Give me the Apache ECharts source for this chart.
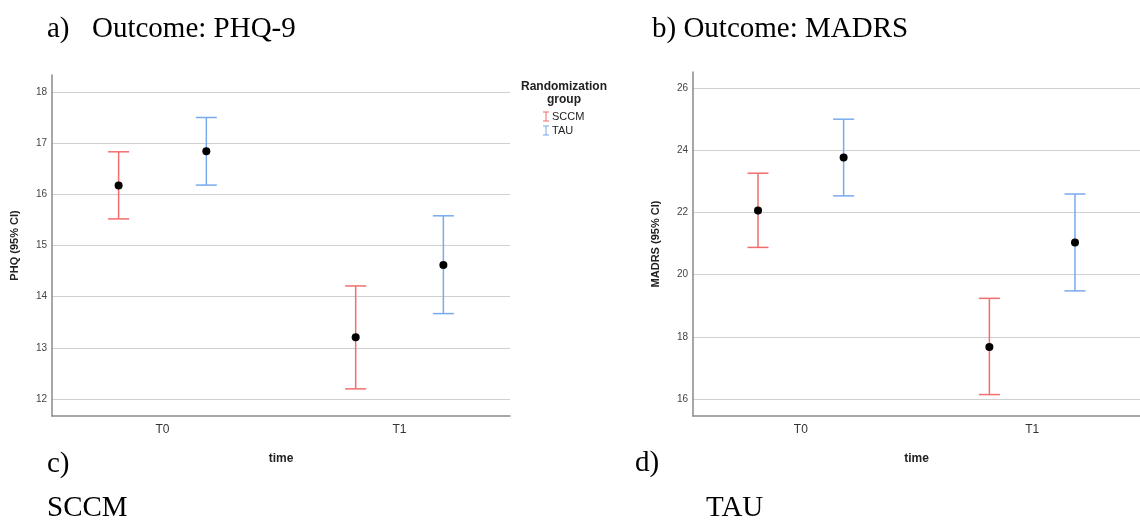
<!DOCTYPE html>
<html>
<head>
<meta charset="utf-8">
<script src="https://cdn.jsdelivr.net/npm/echarts@6/dist/echarts.min.js"></script>
<style>
  html, body { margin: 0; padding: 0; background: #fff; }
  #main { width: 1140px; height: 521px; }
</style>
</head>
<body>
<div id="main"></div>
<script>
// categories (time points)
var categories = ['T0', 'T1'];
var groups = ['SCCM', 'TAU'];

// PHQ-9 : mean, lower and upper 95% CI
var phqSccmMean = [16.17, 13.21];
var phqSccmLow  = [15.52, 12.20];
var phqSccmHigh = [16.83, 14.21];
var phqTauMean  = [16.84, 14.62];
var phqTauLow   = [16.18, 13.67];
var phqTauHigh  = [17.50, 15.58];

// MADRS : mean, lower and upper 95% CI
var madrsSccmMean = [22.07, 17.67];
var madrsSccmLow  = [20.88, 16.14];
var madrsSccmHigh = [23.27, 19.24];
var madrsTauMean  = [23.78, 21.04];
var madrsTauLow   = [22.54, 19.48];
var madrsTauHigh  = [25.01, 22.60];

// y tick labels
var phqTicks = [12, 13, 14, 15, 16, 17, 18];
var madrsTicks = [16, 18, 20, 22, 24, 26];

var RED = '#f26d6d';
var BLUE = '#78aaee';
var SANS = 'Liberation Sans';
var SERIF = 'Liberation Serif';
var shift = 0.185; // dodge of the two groups around each time point

function rows(mean, low, high, dx) {
  var out = [];
  for (var i = 0; i < mean.length; i++) {
    out.push([i + dx, low[i], high[i], mean[i]]);
  }
  return out;
}

function errorBar(color) {
  return function (params, api) {
    var x = api.value(0);
    var lo = api.coord([x, api.value(1)]);
    var hi = api.coord([x, api.value(2)]);
    var hw = 10.5;
    var st = { stroke: color, lineWidth: 1.5 };
    return {
      type: 'group',
      children: [
        { type: 'line', shape: { x1: lo[0], y1: lo[1], x2: hi[0], y2: hi[1] }, style: st },
        { type: 'line', shape: { x1: lo[0] - hw, y1: lo[1], x2: lo[0] + hw, y2: lo[1] }, style: st },
        { type: 'line', shape: { x1: hi[0] - hw, y1: hi[1], x2: hi[0] + hw, y2: hi[1] }, style: st }
      ]
    };
  };
}

function meanPoints(mean, dx) {
  return mean.map(function (v, i) { return [i + dx, v]; });
}

function xAxisFor(gi) {
  return {
    type: 'value', gridIndex: gi, min: -0.466, max: 1.466,
    name: 'time', nameLocation: 'middle', nameGap: 37,
    nameTextStyle: { fontFamily: SANS, fontSize: 12, fontWeight: 'bold', color: '#222' },
    axisLine: { show: true, onZero: false, lineStyle: { color: '#8a8a8a', width: 1.5 } },
    axisTick: { show: false, customValues: [0, 1] },
    splitLine: { show: false },
    axisLabel: {
      customValues: [0, 1], margin: 8,
      fontFamily: SANS, fontSize: 12, color: '#333',
      formatter: function (v) { return categories[Math.round(v)]; }
    }
  };
}

function yAxisFor(gi, name, min, max, ticks) {
  return {
    type: 'value', gridIndex: gi, min: min, max: max,
    name: name, nameLocation: 'middle', nameGap: 32,
    nameTextStyle: { fontFamily: SANS, fontSize: 11, fontWeight: 'bold', color: '#222' },
    axisLine: { show: true, onZero: false, lineStyle: { color: '#8a8a8a', width: 1.5 } },
    axisTick: { show: false, customValues: ticks },
    splitLine: { show: true, lineStyle: { color: '#d0d0d0', width: 1.2 } },
    axisLabel: { customValues: ticks, margin: 5, fontFamily: SANS, fontSize: 10, color: '#444' }
  };
}

function seriesFor(gi, sMean, sLow, sHigh, tMean, tLow, tHigh) {
  return [
    {
      name: 'SCCM', type: 'custom', xAxisIndex: gi, yAxisIndex: gi,
      itemStyle: { color: RED }, renderItem: errorBar(RED),
      encode: { x: 0, y: [1, 2] }, data: rows(sMean, sLow, sHigh, -shift)
    },
    {
      name: 'TAU', type: 'custom', xAxisIndex: gi, yAxisIndex: gi,
      itemStyle: { color: BLUE }, renderItem: errorBar(BLUE),
      encode: { x: 0, y: [1, 2] }, data: rows(tMean, tLow, tHigh, shift)
    },
    {
      type: 'scatter', xAxisIndex: gi, yAxisIndex: gi, symbolSize: 8, z: 5,
      itemStyle: { color: '#000', opacity: 1 },
      data: meanPoints(sMean, -shift).concat(meanPoints(tMean, shift))
    }
  ];
}

var chart = echarts.init(document.getElementById('main'));

var serifText = { fontFamily: SERIF, fontSize: 29, fontWeight: 'normal', color: '#000' };
function label(text, left, top) {
  return { text: text, left: left, top: top, padding: 0, textStyle: serifText };
}

var iBeam = 'path://M0,0h6v1h-2.5v8h2.5v1h-6v-1h2.5v-8h-2.5z';

chart.setOption({
  animation: false,
  title: [
    label('a)', 47, 15),
    label('Outcome: PHQ-9', 92, 15),
    label('b) Outcome: MADRS', 652, 15),
    label('c)', 47, 450),
    label('d)', 635, 449),
    label('SCCM', 47, 494),
    label('TAU', 706, 494),
    {
      text: 'Randomization\ngroup', left: 564, top: 80, textAlign: 'center', padding: 0,
      textStyle: { fontFamily: SANS, fontSize: 12, fontWeight: 'bold', color: '#222', lineHeight: 13 }
    }
  ],
  legend: {
    orient: 'vertical', left: 543, top: 111, padding: 0,
    itemWidth: 6, itemHeight: 10, itemGap: 3,
    textStyle: { fontFamily: SANS, fontSize: 11, color: '#222', padding: [0, 0, 0, -2] },
    data: [
      { name: 'SCCM', icon: iBeam },
      { name: 'TAU', icon: iBeam }
    ]
  },
  grid: [
    { left: 52, top: 75, width: 458, height: 341 },
    { left: 693, top: 72, width: 460, height: 344 }
  ],
  xAxis: [xAxisFor(0), xAxisFor(1)],
  yAxis: [
    yAxisFor(0, 'PHQ (95% CI)', 11.67, 18.33, phqTicks),
    yAxisFor(1, 'MADRS (95% CI)', 15.45, 26.53, madrsTicks)
  ],
  series: seriesFor(0, phqSccmMean, phqSccmLow, phqSccmHigh, phqTauMean, phqTauLow, phqTauHigh)
    .concat(seriesFor(1, madrsSccmMean, madrsSccmLow, madrsSccmHigh, madrsTauMean, madrsTauLow, madrsTauHigh))
});
</script>
</body>
</html>
